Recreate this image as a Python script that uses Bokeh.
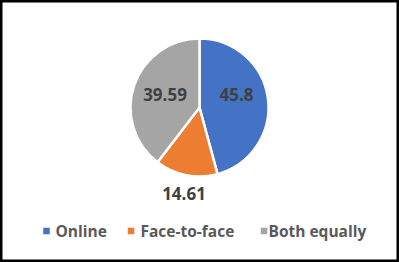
import math
from bokeh.plotting import figure
from bokeh.models import Range1d, ColumnDataSource
from bokeh.core.properties import value
from bokeh.embed import file_html
from bokeh.resources import INLINE

categories = ["Online", "Face-to-face", "Both equally"]
values = [45.8, 14.61, 39.59]
labels = ["45.8", "14.61", "39.59"]
colors = ["#4472C4", "#ED7D31", "#A5A5A5"]

W, H = 399, 262
p = figure(width=W, height=H, output_backend="svg", toolbar_location=None,
           x_range=Range1d(0, W), y_range=Range1d(0, H),
           x_axis_location=None, y_axis_location=None, min_border=0)
p.grid.visible = False
p.background_fill_color = "white"
p.border_fill_color = "white"
p.outline_line_color = "black"
p.outline_line_width = 4

cx, cy, r = 199, H - 107, 69
total = sum(values)
starts, ends = [], []
cum = 0.0
for v in values:
    starts.append(math.pi / 2 - 2 * math.pi * cum / total)
    cum += v
    ends.append(math.pi / 2 - 2 * math.pi * cum / total)

src = ColumnDataSource(dict(x=[cx] * 3, y=[cy] * 3, start=starts, end=ends, color=colors))
p.wedge(x="x", y="y", radius=r, start_angle="start", end_angle="end", direction="clock",
        fill_color="color", line_color="white", line_width=2.5, source=src)

# data labels (Excel best-fit placement)
lab_px = [(236, 94), (183.5, 192.5), (164.5, 93.5)]
p.text(x=[q[0] for q in lab_px], y=[H - q[1] for q in lab_px], text=labels,
       text_font=value("Open Sans"), text_font_style="bold", text_font_size="17px",
       text_color="#404040", text_align="center", text_baseline="middle")

# legend
mk_x = [46, 130.5, 263.5]
tx_x = [55, 140, 268]
ly = H - 230.5
p.scatter(x=mk_x, y=[ly] * 3, marker="square", size=6.5, fill_color=colors, line_color=None)
p.text(x=tx_x, y=[ly] * 3, text=categories,
       text_font=value("Open Sans"), text_font_style="bold", text_font_size="15.5px",
       text_color="#595959", text_align="left", text_baseline="middle")

open("out.html", "w").write(file_html(p, INLINE))
